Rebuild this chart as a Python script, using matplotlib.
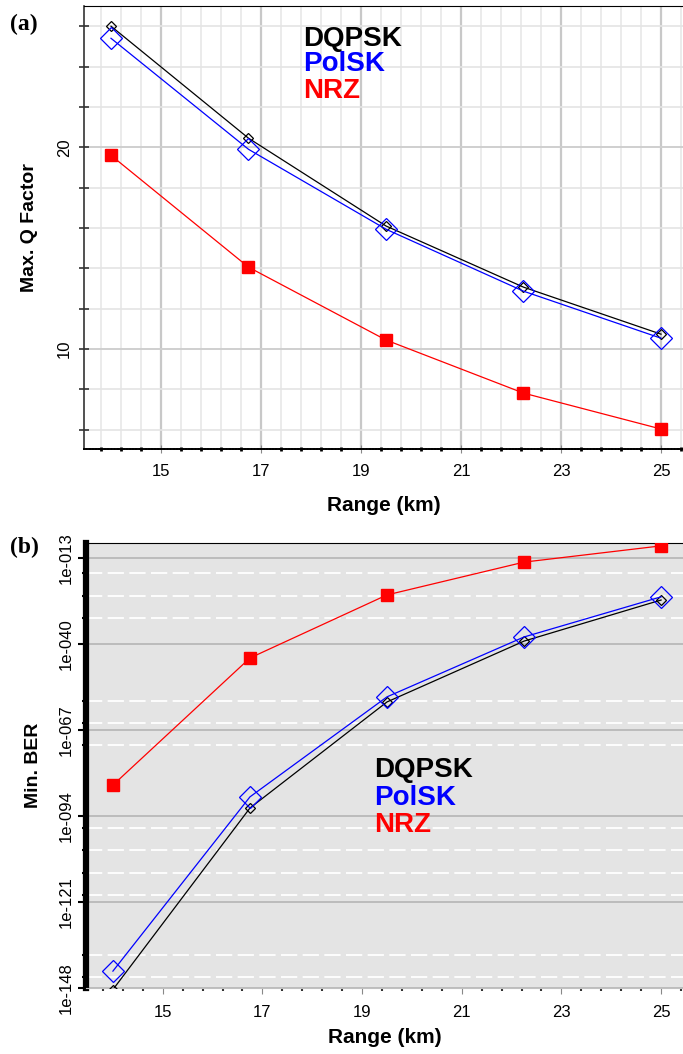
import matplotlib
matplotlib.use("Agg")
import matplotlib.pyplot as plt
import numpy as np
from matplotlib.ticker import FixedLocator, FuncFormatter, NullFormatter

plt.rcParams['font.family'] = ['Liberation Sans', 'DejaVu Sans']

# ---------------- data ----------------
range_km = [14.0, 16.75, 19.5, 22.25, 25.0]

# (a) max Q factor
q_dqpsk = [26.0, 20.45, 16.1, 13.07, 10.74]
q_polsk = [25.4, 19.9, 15.94, 12.87, 10.54]
q_nrz = [19.6, 14.06, 10.45, 7.82, 6.04]

# (b) min BER, stored as log10 exponents
ber_dqpsk = [-148.5, -91.5, -58.2, -39.1, -26.2]
ber_polsk = [-142.7, -88.0, -56.6, -37.8, -25.2]
ber_nrz = [-84.3, -44.4, -24.6, -14.3, -9.2]

ber_major = [-13, -40, -67, -94, -121, -148]
ber_minor = [-17.7, -24.9, -31.8, -57.9, -64.8, -71.7,
             -97.8, -104.7, -111.9, -118.8, -137.6, -144.5]

x_major = [15, 17, 19, 21, 23, 25]
x_minor = list(np.arange(13.8, 25.5, 0.4))

names = ['DQPSK', 'PolSK', 'NRZ']
colors = ['black', '#0000ff', '#ff0000']

W, H = 683, 1054
fig = plt.figure(figsize=(W / 100, H / 100), dpi=100)


def box(left, top, right, bottom):
    return [left / W, 1 - bottom / H, (right - left) / W, (bottom - top) / H]


def draw_series(ax, ys_list):
    ax.plot(range_km, ys_list[0], color='black', lw=0.9, marker='D', ms=5,
            mfc='none', mec='black', mew=0.9, zorder=4)
    ax.plot(range_km, ys_list[1], color='#0000ff', lw=0.9, marker='D', ms=11,
            mfc='none', mec='#0000ff', mew=0.9, zorder=5)
    ax.plot(range_km, ys_list[2], color='#ff0000', lw=0.9, marker='s', ms=9,
            mfc='#ff0000', mec='#ff0000', zorder=6)


def legend_text(ax, x0, ys):
    for name, c, y in zip(names, colors, ys):
        ax.text(x0, y, name, color=c, fontsize=20, fontweight='bold',
                ha='left', va='center', transform=ax.transAxes, zorder=7)


# ---------------- panel (a) ----------------
ax1 = fig.add_axes(box(84, 6, 683, 449))
draw_series(ax1, [q_dqpsk, q_polsk, q_nrz])
ax1.set_xlim(13.46, 25.44)
ax1.set_ylim(5.05, 27.0)

ax1.xaxis.set_major_locator(FixedLocator(x_major))
ax1.xaxis.set_minor_locator(FixedLocator(x_minor))
ax1.yaxis.set_major_locator(FixedLocator([10, 20]))
ax1.yaxis.set_minor_locator(FixedLocator([6, 8, 12, 14, 16, 18, 22, 24, 26]))

ax1.grid(which='major', axis='x', color='#c8c8c8', lw=1.6)
ax1.grid(which='minor', axis='x', color='#e8e8e8', lw=1.2)
ax1.grid(which='major', axis='y', color='#cfcfcf', lw=1.4)
ax1.grid(which='minor', axis='y', color='#e4e4e4', lw=1.2)
ax1.set_axisbelow(True)

ax1.spines['right'].set_visible(False)
ax1.spines['top'].set_linestyle((0, (1, 1)))
ax1.spines['top'].set_linewidth(0.8)
ax1.spines['bottom'].set_linestyle((0, (1, 0.6)))
ax1.spines['bottom'].set_linewidth(1.4)
ax1.spines['left'].set_color('#333333')
ax1.spines['left'].set_linewidth(1.2)

ax1.tick_params(axis='x', which='major', direction='inout', length=6, width=0.8,
                color='#888888', labelsize=12, pad=8)
ax1.tick_params(axis='x', which='minor', direction='inout', length=3, width=2,
                color='black')
ax1.tick_params(axis='y', which='both', direction='inout', length=7, width=1.2,
                color='#333333', labelsize=12, pad=5)
for lab in ax1.get_yticklabels():
    lab.set_rotation(90)
    lab.set_va('center')

ax1.set_xlabel('Range (km)', fontsize=15, fontweight='bold', labelpad=12)
ax1.set_ylabel('Max. Q Factor', fontsize=14, fontweight='bold', labelpad=14)
legend_text(ax1, 0.366, [0.925, 0.869, 0.808])

fig.text(24 / W, 1 - 24 / H, '(a)', fontsize=17, fontweight='bold',
         family='Liberation Serif', ha='center', va='center')

# ---------------- panel (b) ----------------
ax2 = fig.add_axes(box(86, 543, 683, 988))
ax2.set_facecolor('#e4e4e4')
draw_series(ax2, [10.0 ** np.array(ber_dqpsk), 10.0 ** np.array(ber_polsk),
                  10.0 ** np.array(ber_nrz)])
ax2.set_yscale('log')
ax2.set_xlim(13.46, 25.44)
ax2.set_ylim(10.0 ** -148, 10.0 ** -8.3)

ax2.xaxis.set_major_locator(FixedLocator(x_major))
ax2.xaxis.set_minor_locator(FixedLocator(x_minor))
ax2.yaxis.set_major_locator(FixedLocator(10.0 ** np.array(ber_major, dtype=float)))
ax2.yaxis.set_minor_locator(FixedLocator(10.0 ** np.array(ber_minor)))
ax2.yaxis.set_major_formatter(FuncFormatter(
    lambda v, p: '1e%04d' % int(round(np.log10(v)))))
ax2.yaxis.set_minor_formatter(NullFormatter())

ax2.grid(which='major', axis='y', color='#b4b4b4', lw=1.2)
ax2.grid(which='minor', axis='y', color='white', lw=1.3, ls=(0, (9, 3)))
ax2.set_axisbelow(True)

ax2.spines['right'].set_visible(False)
ax2.spines['top'].set_linestyle((0, (1, 1)))
ax2.spines['top'].set_linewidth(0.8)
ax2.spines['bottom'].set_color('#c0c0c0')
ax2.spines['bottom'].set_linewidth(0.8)
ax2.spines['left'].set_color('black')
ax2.spines['left'].set_linewidth(4.5)

ax2.tick_params(axis='x', which='major', direction='out', length=4, width=0.8,
                color='#888888', labelsize=12, pad=8)
ax2.tick_params(axis='x', which='minor', direction='out', length=2, width=1.5,
                color='#333333')
ax2.tick_params(axis='y', which='major', direction='out', length=6, width=1.5,
                color='black', labelsize=12, pad=3)
ax2.tick_params(axis='y', which='minor', direction='out', length=3, width=1.5,
                color='black')
for lab in ax2.get_yticklabels():
    lab.set_rotation(90)
    lab.set_va('center')

ax2.set_xlabel('Range (km)', fontsize=15, fontweight='bold', labelpad=6)
ax2.set_ylabel('Min. BER', fontsize=14, fontweight='bold', labelpad=12)
legend_text(ax2, 0.482, [0.490, 0.427, 0.366])

fig.text(24 / W, 1 - 547 / H, '(b)', fontsize=17, fontweight='bold',
         family='Liberation Serif', ha='center', va='center')

fig.savefig('out.png', dpi=100)
